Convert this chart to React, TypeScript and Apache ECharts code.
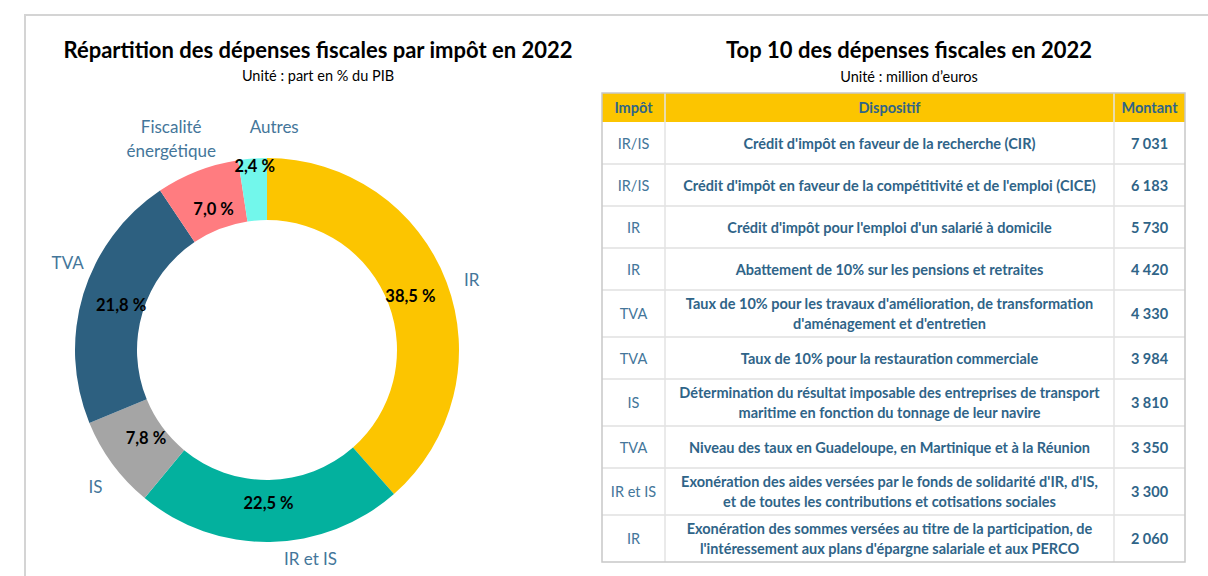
import React, { useEffect, useRef } from "react";
import * as echarts from "echarts";

// ---------- Data ----------
const pieTitle = "Répartition des dépenses fiscales par impôt en 2022";
const pieSubtitle = "Unité : part en % du PIB";
const pieCategories = ["IR", "IR et IS", "IS", "TVA", "Fiscalité\nénergétique", "Autres"];
const pieValues = [38.5, 22.5, 7.8, 21.8, 7.0, 2.4];

const tableTitle = "Top 10 des dépenses fiscales en 2022";
const tableSubtitle = "Unité : million d’euros";
const tableHeaders = ["Impôt", "Dispositif", "Montant"];
const tableImpots = ["IR/IS", "IR/IS", "IR", "IR", "TVA", "TVA", "IS", "TVA", "IR et IS", "IR"];
const tableDispositifs = [
  "Crédit d'impôt en faveur de la recherche (CIR)",
  "Crédit d'impôt en faveur de la compétitivité et de l'emploi (CICE)",
  "Crédit d'impôt pour l'emploi d'un salarié à domicile",
  "Abattement de 10% sur les pensions et retraites",
  "Taux de 10% pour les travaux d'amélioration, de transformation\nd'aménagement et d'entretien",
  "Taux de 10% pour la restauration commerciale",
  "Détermination du résultat imposable des entreprises de transport\nmaritime en fonction du tonnage de leur navire",
  "Niveau des taux en Guadeloupe, en Martinique et à la Réunion",
  "Exonération des aides versées par le fonds de solidarité d'IR, d'IS,\net de toutes les contributions et cotisations sociales",
  "Exonération des sommes versées au titre de la participation, de\nl'intéressement aux plans d'épargne salariale et aux PERCO",
];
const tableMontants = [7031, 6183, 5730, 4420, 4330, 3984, 3810, 3350, 3300, 2060];

// ---------- Styles ----------
const pieColors = ["#FCC500", "#03B19E", "#A5A5A5", "#2D6080", "#FF7C80", "#72F7EB"];
const labelBlue = "#44769A";
const tableBlue = "#2F6488";
const FONT = "Lato, 'Open Sans', sans-serif";
const TABLE_FS = 14.5;
// label offsets (dx, dy) to mimic the manual placement of the source
const pctOffsets = [[-10, 4], [-1, -11], [11, -9], [11, 3], [6, 12], [0, -20]];
const nameOffsets = [[-4, 8], [40, -14], [8, 4], [14, -23], [-15, -4], [24, -1]];

const fmtPct = (v: number) => v.toFixed(1).replace(".", ",") + " %";
const fmtNum = (v: number) => String(v).replace(/\B(?=(\d{3})+(?!\d))/g, " ");

function buildTable(): any[] {
  const left = 602;
  const colX = [602, 665, 1114, 1185];
  const headerTop = 93;
  const headerH = 29;
  const singleH = 42;
  const doubleH = 47;
  const els: any[] = [];
  const txt = (text: string, x: number, y: number, bold: boolean, color: string) => ({
    type: "text",
    x,
    y,
    style: {
      text,
      fill: color,
      font: `${bold ? "bold " : ""}${TABLE_FS}px ${FONT}`,
      textAlign: "center",
      textVerticalAlign: "middle",
      align: "center",
      verticalAlign: "middle",
      lineHeight: 20,
    },
  });
  // header
  els.push({
    type: "rect",
    shape: { x: left, y: headerTop, width: colX[3] - left, height: headerH },
    style: { fill: "#FCC500" },
  });
  tableHeaders.forEach((h, i) => {
    els.push(txt(h, (colX[i] + colX[i + 1]) / 2, headerTop + headerH / 2, true, tableBlue));
  });
  let y = headerTop + headerH;
  const rowTops: number[] = [y];
  tableDispositifs.forEach((d, i) => {
    const h = d.includes("\n") ? doubleH : singleH;
    const cy = y + h / 2;
    els.push(txt(tableImpots[i], (colX[0] + colX[1]) / 2, cy, false, labelBlue));
    els.push(txt(d, (colX[1] + colX[2]) / 2, cy, true, tableBlue));
    els.push(txt(fmtNum(tableMontants[i]), (colX[2] + colX[3]) / 2, cy, true, tableBlue));
    y += h;
    rowTops.push(y);
  });
  const bottom = y;
  // horizontal lines
  rowTops.slice(0, -1).forEach((ry, i) => {
    if (i === 0) return;
    els.push({
      type: "line",
      shape: { x1: left, y1: ry, x2: colX[3], y2: ry },
      style: { stroke: "#E0E0E0", lineWidth: 1.5 },
    });
  });
  // vertical lines
  [colX[1], colX[2]].forEach((vx) => {
    els.push({
      type: "line",
      shape: { x1: vx, y1: headerTop, x2: vx, y2: bottom },
      style: { stroke: "#E3E3E3", lineWidth: 1.5 },
    });
  });
  // outer border
  els.push({
    type: "rect",
    shape: { x: left, y: headerTop, width: colX[3] - left, height: bottom - headerTop },
    style: { fill: "none", stroke: "#C8C8C8", lineWidth: 1.5 },
  });
  return els;
}

export default function App() {
  const ref = useRef<HTMLDivElement>(null);
  useEffect(() => {
    if (!ref.current) return;
    const chart = echarts.init(ref.current, null, { renderer: "svg" });
    const center = [267, 350];
    const titleStyle = { fontFamily: FONT, fontWeight: "bold", fontSize: 22, color: "#000" };
    const subStyle = { fontFamily: FONT, fontWeight: "normal", fontSize: 14.5, color: "#000" };
    const option: any = {
      animation: false,
      backgroundColor: "#FFFFFF",
      title: [
        { text: pieTitle, left: 313, top: 33, textAlign: "center", textStyle: titleStyle },
        { text: pieSubtitle, left: 313, top: 63, textAlign: "center", textStyle: subStyle },
        { text: tableTitle, left: 904, top: 33, textAlign: "center", textStyle: titleStyle },
        { text: tableSubtitle, left: 904, top: 64, textAlign: "center", textStyle: subStyle },
      ],
      graphic: [
        {
          type: "rect",
          shape: { x: 25, y: 15, width: 1400, height: 800 },
          style: { fill: "none", stroke: "#D4D4D4", lineWidth: 2 },
          silent: true,
        },
        ...buildTable(),
      ],
      series: [
        {
          type: "pie",
          center,
          radius: [130, 192],
          startAngle: 90,
          clockwise: true,
          silent: true,
          data: pieCategories.map((c, i) => ({
            name: c,
            value: pieValues[i],
            itemStyle: { color: pieColors[i] },
          })),
          label: {
            show: true,
            position: "inside",
            rotate: 0,
            overflow: "none",
            formatter: (p: any) => fmtPct(p.value),
            fontFamily: FONT,
            fontWeight: "bold",
            fontSize: 16.5,
            color: "#000",
          },
          labelLine: { show: false },
          labelLayout: (p: any) => ({ dx: pctOffsets[p.dataIndex][0], dy: pctOffsets[p.dataIndex][1] }),
        },
        {
          type: "pie",
          center,
          radius: [200, 240],
          startAngle: 90,
          clockwise: true,
          silent: true,
          data: pieCategories.map((c, i) => ({
            name: c,
            value: pieValues[i],
            itemStyle: { color: "rgba(0,0,0,0)" },
          })),
          label: {
            show: true,
            position: "inside",
            rotate: 0,
            overflow: "none",
            formatter: (p: any) => p.name,
            fontFamily: FONT,
            fontSize: 17,
            lineHeight: 24,
            color: labelBlue,
          },
          labelLine: { show: false },
          labelLayout: (p: any) => ({ dx: nameOffsets[p.dataIndex][0], dy: nameOffsets[p.dataIndex][1] }),
        },
      ],
    };
    chart.setOption(option);
    return () => chart.dispose();
  }, []);
  return (
    <div
      ref={ref}
      style={{ position: "absolute", left: 0, top: 0, width: 1208, height: 576, background: "#fff" }}
    />
  );
}
